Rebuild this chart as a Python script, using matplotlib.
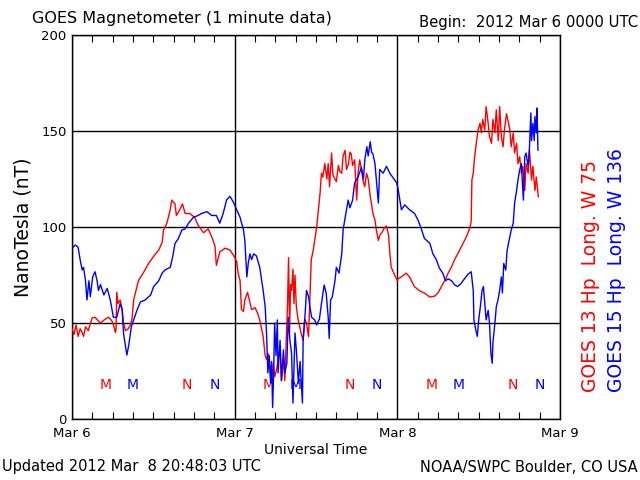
import matplotlib
matplotlib.use("Agg")
import matplotlib.pyplot as plt
import numpy as np

# GOES 13 (red), hours since 2012 Mar 6 00 UTC, nT
t13 = [0.0, 0.3, 0.6, 0.9, 1.2, 1.5, 1.7, 2.0, 2.4, 2.95, 3.4, 3.9, 4.2, 4.9, 5.4,
       5.9, 6.2, 6.4, 6.5, 6.6, 6.8, 7.1, 7.4, 7.6, 7.9, 8.3, 8.6, 8.85, 9.1, 9.8,
       10.5, 11.3, 12.0, 12.8, 13.3, 13.5, 14.0, 14.5, 14.7, 15.2, 15.4, 15.9, 16.3,
       16.7, 17.4, 18.1, 18.6, 19.0, 19.4, 20.1, 20.6, 21.1, 21.3, 21.8, 22.6, 23.3,
       23.8, 24.3, 24.5, 24.8, 25.0, 25.3, 25.5, 25.9, 26.3, 26.5, 27.0, 27.4, 27.7,
       28.2, 28.5, 28.7, 28.95, 29.2, 29.4, 29.7, 29.9, 30.2, 30.5, 30.7, 30.9, 31.2,
       31.4, 31.6, 31.8, 31.95, 32.1, 32.25, 32.4, 32.6, 32.75, 32.9, 33.1, 33.35,
       33.6, 33.85, 34.1, 34.35, 34.6, 34.75, 34.9, 35.1, 35.3, 35.6, 36.1, 36.3,
       36.6, 36.8, 37.0, 37.3, 37.6, 37.8, 38.0, 38.3, 38.5, 39.0, 39.3, 39.5, 39.8,
       40.0, 40.3, 40.5, 40.8, 41.0, 41.2, 41.4, 41.7, 41.85, 42.0, 42.2, 42.45,
       42.7, 42.95, 43.2, 43.45, 43.7, 44.0, 44.2, 44.4, 44.7, 44.9, 45.2, 45.45,
       45.7, 46.0, 46.2, 46.4, 46.7, 46.9, 47.1, 47.35, 47.6, 48.0, 48.1, 48.6, 49.3,
       49.8, 50.5, 51.3, 52.0, 52.8, 53.5, 54.0, 54.5, 55.0, 55.5, 55.96, 56.45,
       57.2, 57.7, 58.2, 58.7, 58.9, 59.0, 59.2, 59.4, 59.7, 59.9, 60.2, 60.4, 60.6,
       60.9, 61.1, 61.4, 61.6, 61.9, 62.1, 62.4, 62.6, 62.9, 63.1, 63.35, 63.6, 63.8,
       64.1, 64.3, 64.6, 64.8, 65.1, 65.3, 65.6, 65.8, 66.05, 66.3, 66.5, 66.8, 67.0,
       67.3, 67.5, 67.8, 68.0, 68.3, 68.5, 68.8]
b13 = [47, 44, 49, 43, 47, 45, 43, 48, 46, 52.6, 53, 51, 50, 52, 53,
       51, 48, 45, 47, 66, 60, 62, 57, 50, 46, 47, 49, 52, 62, 72,
       76, 81, 84.5, 88, 92, 98.4, 102, 109, 114, 112, 106, 109, 112,
       107, 107, 105, 101, 99, 97, 99, 95, 90, 80, 87, 89, 88,
       85.4, 82, 76, 72, 57, 56, 62, 66, 60, 57, 58, 55, 51.6,
       43, 33, 31, 34, 27, 19, 29, 22, 26, 33, 37.6, 20, 31,
       20, 40, 60, 84, 45, 70, 67, 78, 60, 75, 58.5, 52,
       48, 44, 41, 52, 50, 46, 43, 63.7, 83, 88, 100, 107,
       117.6, 128, 126, 133, 125, 133, 121, 138.5, 127, 123.6, 132, 129, 128,
       137, 140, 130, 133, 139, 138, 132, 135, 125, 114, 128, 135,
       130, 124, 121, 128, 125, 116, 112, 107, 103.6, 98.4, 93, 96,
       97, 99, 100, 100.5, 96, 86, 79, 77, 75, 72, 73, 74, 76,
       74, 69, 66.7, 65.6, 63.5, 64, 65.6, 69, 72, 76, 79, 83,
       88, 91.5, 95, 99.5, 103, 124.5, 128, 136.6, 145, 150.5, 154, 149, 156,
       150.5, 162.7, 154, 147, 143.6, 156, 149, 161, 145, 162.7, 147, 141.8, 150.5,
       159, 156, 150.5, 141.8, 149, 138.5, 143.6, 133, 136.6, 128, 131.6, 119, 133,
       128, 140, 124.5, 131.6, 119, 126, 115.8]

# GOES 15 (blue)
t15 = [0.0, 0.5, 0.9, 1.2, 1.5, 1.7, 2.0, 2.2, 2.5, 2.7, 3.05, 3.4, 3.7, 3.9, 4.2,
       4.7, 5.2, 5.65, 6.1, 6.6, 7.1, 7.4, 7.6, 7.9, 8.1, 8.4, 8.75, 9.1, 9.6, 10.1,
       10.8, 11.6, 12.05, 12.8, 13.3, 13.7, 14.5, 14.85, 15.2, 15.7, 16.2, 16.7, 17.2,
       17.9, 18.6, 19.1, 19.9, 20.6, 21.3, 21.8, 22.3, 22.8, 23.3, 23.8, 24.3, 24.8,
       25.3, 25.5, 25.8, 26.0, 26.25, 26.5, 26.8, 27.2, 27.7, 28.0, 28.2, 28.5, 28.7,
       28.9, 29.1, 29.3, 29.45, 29.6, 29.75, 29.9, 30.1, 30.3, 30.4, 30.7, 30.9, 31.2,
       31.4, 31.7, 31.9, 32.15, 32.4, 32.6, 32.9, 33.1, 33.4, 33.65, 33.9, 34.0, 34.1,
       34.4, 34.6, 34.9, 35.1, 35.35, 35.8, 36.1, 36.5, 36.8, 37.2, 37.5, 37.8, 37.95,
       38.15, 38.4, 38.8, 39.0, 39.4, 39.8, 40.0, 40.4, 40.75, 41.0, 41.4, 41.7, 42.2,
       42.7, 43.0, 43.2, 43.5, 43.7, 44.0, 44.2, 44.4, 44.7, 44.9, 45.2, 45.4, 45.9,
       46.4, 46.9, 47.4, 47.9, 48.1, 48.6, 49.1, 49.8, 50.55, 51.05, 51.5, 52.0, 52.8,
       53.25, 53.75, 54.2, 54.7, 55.1, 55.5, 56.0, 56.45, 56.9, 57.4, 57.9, 58.4, 58.9,
       59.2, 59.3, 59.6, 59.8, 60.0, 60.25, 60.5, 60.7, 60.9, 61.1, 61.4, 61.6, 61.8,
       62.0, 62.1, 62.4, 62.6, 62.85, 63.1, 63.35, 63.5, 63.7, 64.0, 64.2, 64.6, 64.8,
       65.1, 65.3, 65.6, 65.8, 66.05, 66.3, 66.6, 66.8, 67.0, 67.3, 67.5, 67.7, 67.8,
       68.0, 68.2, 68.3, 68.5, 68.6, 68.75]
b15 = [89, 90.6, 89.5, 83, 77.6, 79, 72, 62, 72, 63.7, 74, 76.7, 72, 67, 70,
       64.6, 68, 62, 53, 53, 60, 57, 44.8, 37.6, 33.3, 39, 48, 51.6, 56.8, 61,
       62, 64.6, 69, 72, 76, 77.6, 79, 84.5, 91.5, 94, 98.4, 99, 102,
       105, 106, 107, 108, 106, 106, 102, 107, 114, 116, 113, 109, 105,
       98.4, 93, 74, 81, 86, 83, 86, 85, 79, 72, 67, 58.5, 44.8,
       24, 33, 18.7, 30, 6, 24, 50, 33, 51.6, 24, 41, 20, 36,
       24, 29, 53, 41, 34, 8.3, 44.8, 36, 18.7, 30, 15, 8.3, 41,
       55, 67, 63.7, 58.5, 53, 51.6, 49, 52, 60, 69.8, 65.6, 53, 42,
       62, 63.5, 72, 79, 76, 86, 98.4, 107, 114, 110, 114, 123, 126,
       131, 125, 135, 141.8, 137, 144.4, 139, 138, 133, 125, 112.5, 130, 128,
       131.6, 128, 125.5, 123, 120, 109, 111.5, 109, 107, 103.6, 99.4, 94, 91.5,
       86, 83, 78.6, 76, 72, 73, 72, 69.8, 69, 70.6, 73, 75.3, 76.7,
       67, 51.6, 46, 43, 51.6, 58.5, 67, 69, 60, 51.6, 56.6, 50, 34.4,
       29, 39.6, 50, 58.5, 62, 67, 74, 65.6, 81, 77.6, 88, 95, 98.4,
       102, 112.4, 119, 124.5, 129.7, 133, 114, 136.6, 138.5, 131.6, 141.8, 159.4, 145,
       154, 145, 157.6, 149, 162, 140]

# local midnight (M) / noon (N) marks, hours
m13 = [5, 29, 53]
n13 = [17, 41, 65]
m15 = [9, 33, 57]
n15 = [21, 45, 69]

day_labels = ["Mar 6", "Mar 7", "Mar 8", "Mar 9"]

plt.rcParams['font.family'] = 'DejaVu Sans'
fig = plt.figure(figsize=(6.4, 4.8), dpi=100)
ax = fig.add_axes([72 / 640, 1 - 419 / 480, 488 / 640, 384 / 480])

ax.set_xlim(0, 72)
ax.set_ylim(0, 200)

for h in m13:
    ax.text(h, 17.7, "M", color="#ff0000", ha="center", va="center", fontsize=10, zorder=1)
for h in n13:
    ax.text(h, 17.7, "N", color="#ff0000", ha="center", va="center", fontsize=10, zorder=1)
for h in m15:
    ax.text(h, 17.7, "M", color="#0000ff", ha="center", va="center", fontsize=10, zorder=1)
for h in n15:
    ax.text(h, 17.7, "N", color="#0000ff", ha="center", va="center", fontsize=10, zorder=1)

ax.plot(t13, b13, color="#ff0000", lw=1.0, zorder=3)
ax.plot(t15, b15, color="#0000ff", lw=1.0, zorder=3)

ax.set_xticks([0, 24, 48, 72])
ax.set_xticklabels(day_labels, fontsize=9.5)
ax.set_xticks(np.arange(0, 73, 3), minor=True)
ax.tick_params(axis="x", which="minor", direction="in", length=5, top=True, bottom=True, width=0.8)
ax.tick_params(axis="x", which="major", length=0, pad=6)
ax.set_yticks([0, 50, 100, 150, 200])
ax.tick_params(axis="y", length=0, labelsize=9.5, pad=4)
ax.grid(True, color="black", lw=1.0, zorder=2)
for s in ax.spines.values():
    s.set_linewidth(1.0)

ax.set_xlabel("Universal Time", fontsize=10, labelpad=2)
ax.set_ylabel("NanoTesla (nT)", fontsize=13.5, labelpad=6)

fig.text(32 / 640, 1 - 18 / 480, "GOES Magnetometer (1 minute data)", fontsize=11.5, va="center", ha="left")
fig.text(638 / 640, 1 - 22 / 480, "Begin:  2012 Mar 6 0000 UTC", fontsize=10.7, va="center", ha="right")
fig.text(2 / 640, 1 - 467 / 480, "Updated 2012 Mar  8 20:48:03 UTC", fontsize=10.5, va="center", ha="left")
fig.text(638 / 640, 1 - 467 / 480, "NOAA/SWPC Boulder, CO USA", fontsize=10.5, va="center", ha="right")
fig.text(590 / 640, 1 - 392 / 480, "GOES 13 Hp  Long. W 75", color="#ff0000", fontsize=13.5,
         rotation=90, ha="center", va="bottom")
fig.text(617 / 640, 1 - 392 / 480, "GOES 15 Hp  Long. W 136", color="#0000ff", fontsize=13.5,
         rotation=90, ha="center", va="bottom")

fig.savefig("out.png", dpi=100)
